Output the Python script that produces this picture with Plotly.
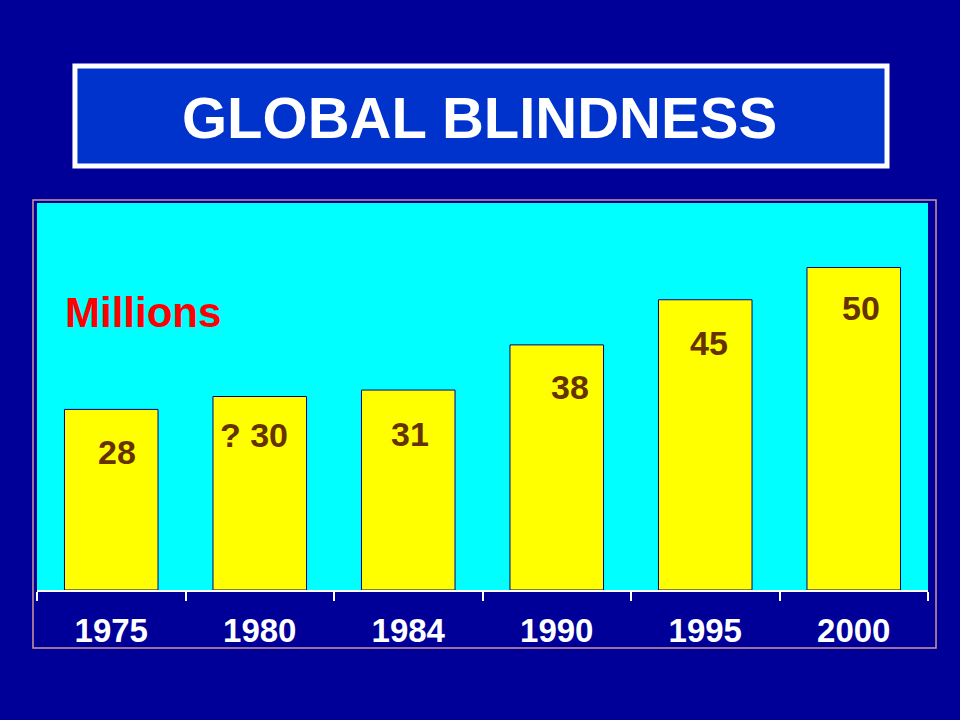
import plotly.graph_objects as go

years = ["1975", "1980", "1984", "1990", "1995", "2000"]
values = [28, 30, 31, 38, 45, 50]
value_labels = ["28", "? 30", "31", "38", "45", "50"]
title_text = "GLOBAL BLINDNESS"
unit_text = "Millions"

# label placement offsets (pixels) as in the original slide
label_xshift = [6, -6, 2, 13, 4, 7]
label_yshift = [-43, -38, -44, -42, -43, -40]

NAVY = "#000099"
FONT = "Liberation Sans, Arial, sans-serif"

fig = go.Figure()
fig.add_trace(go.Bar(
    x=years, y=values,
    width=0.63,
    marker=dict(color="#ffff00", line=dict(color="#000080", width=1)),
    hoverinfo="skip",
))

annotations = []
for i, (v, lab, dx, dy) in enumerate(zip(values, value_labels, label_xshift, label_yshift)):
    annotations.append(dict(
        x=i, y=v, xref="x", yref="y", text=lab, showarrow=False,
        xshift=dx, yshift=dy, xanchor="center", yanchor="middle",
        font=dict(family=FONT, size=34, color="#663300", weight="bold"),
    ))

annotations.append(dict(
    x=0.029, y=0.718, xref="paper", yref="paper", text=unit_text, showarrow=False,
    xanchor="left", yanchor="middle",
    font=dict(family=FONT, size=42, color="#ff0000", weight="bold"),
))
annotations.append(dict(
    x=0.497, y=1.222, xref="paper", yref="paper", text=title_text, showarrow=False,
    xanchor="center", yanchor="middle",
    font=dict(family=FONT, size=58, color="#ffffff", weight="bold"),
))

shapes = [
    # title box
    dict(type="rect", xref="paper", yref="paper", x0=0.0426, x1=0.954, y0=1.0956, y1=1.354,
         fillcolor="#0033cc", line=dict(color="#ffffff", width=5), layer="below"),
    # outer chart border
    dict(type="rect", xref="paper", yref="paper", x0=-0.0045, x1=1.009, y0=-0.1499, y1=1.0078,
         fillcolor="rgba(0,0,0,0)", line=dict(color="#cc9999", width=1.5)),
]

fig.update_layout(
    width=960, height=720,
    paper_bgcolor=NAVY,
    plot_bgcolor="#00ffff",
    margin=dict(l=37, r=32, t=203, b=130),
    showlegend=False,
    bargap=0.37,
    annotations=annotations,
    shapes=shapes,
    xaxis=dict(
        type="category",
        range=[-0.5, 5.5], autorange=False,
        tickson="boundaries",
        ticks="outside", ticklen=9, tickwidth=1.5, tickcolor="#ffffff",
        showline=True, linecolor="#ffffff", linewidth=1.5,
        showgrid=False, zeroline=False,
        tickangle=0,
        tickfont=dict(family=FONT, size=33, color="#ffffff", weight="bold"),
        ticklabelstandoff=11,
    ),
    yaxis=dict(
        range=[0, 60], autorange=False, visible=False, showgrid=False, zeroline=False,
    ),
)

fig.write_html(
    "out.html",
    config={"displayModeBar": False},
    post_script="document.body.style.margin='0';document.body.style.overflow='hidden';",
)
